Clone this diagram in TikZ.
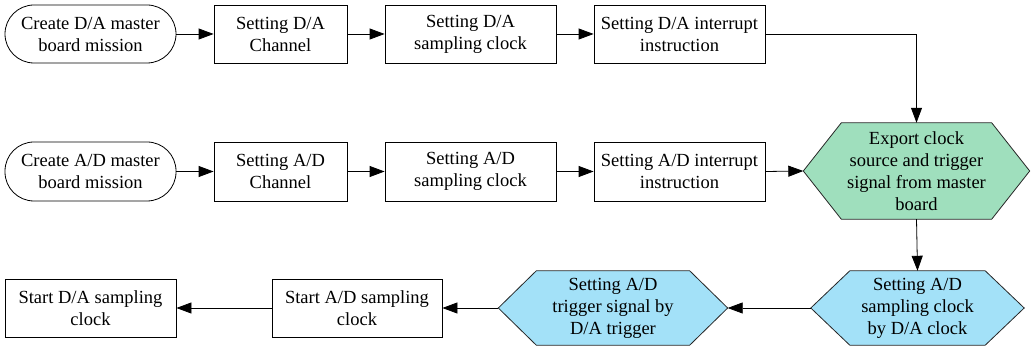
\documentclass[tikz,border=0pt]{standalone}
\usepackage{fontspec}
\setmainfont{Liberation Serif}
\usetikzlibrary{arrows.meta, backgrounds, calc}
\usepackage{xcolor}
\definecolor{hexgreen}{HTML}{9FDFBD}
\definecolor{hexblue}{HTML}{A3E1F8}

\tikzset{
  block/.style={draw, line width=0.8pt, minimum height=58pt, align=center,
    inner sep=0pt, font=\fontsize{18.5}{22}\selectfont},
  startstop/.style={block, rounded corners=29pt},
  hexbox/.style={align=center, inner sep=0pt, font=\fontsize{18.5}{22}\selectfont},
  flow/.style={line width=0.8pt, -{Triangle[length=15pt, width=11pt]}}
}

% hexagon behind a node: node, tip length, colour
\newcommand{\hexfill}[3]{%
  \filldraw[fill=#3, draw=black!85, line width=0.8pt]
    (#1.north west) -- (#1.north east) -- ($(#1.east)+(#2,0)$)
    -- (#1.south east) -- (#1.south west) -- ($(#1.west)+(-#2,0)$) -- cycle;
}

\begin{document}
\begin{tikzpicture}[x=1pt, y=-1pt]
  \useasboundingbox (0,0) rectangle (1031,347);

  % D/A row
  \node[startstop, minimum width=171pt] (mdA) at (90.5,34) {Create D/A master\\board mission};
  \node[block, minimum width=133pt] (chA) at (280.5,34) {Setting D/A\\Channel};
  \node[block, minimum width=171pt] (clkA) at (470.5,34) {Setting D/A\\sampling clock};
  \node[block, minimum width=171pt] (intA) at (679.5,34) {Setting D/A interrupt\\instruction};

  % A/D row
  \node[startstop, minimum width=171pt, minimum height=59pt] (mdD) at (90.5,171.5) {Create A/D master\\board mission};
  \node[block, minimum width=133pt, minimum height=59pt] (chD) at (280.5,171.5) {Setting A/D\\Channel};
  \node[block, minimum width=171pt, minimum height=59pt] (clkD) at (470.5,171.5) {Setting A/D\\sampling clock};
  \node[block, minimum width=171pt, minimum height=59pt] (intD) at (679.5,171.5) {Setting A/D interrupt\\instruction};

  % Hexagons
  \node[hexbox, minimum width=150pt, minimum height=96pt] (hexG) at (916.5,171) {Export clock\\source and trigger\\signal from master\\board};
  \node[hexbox, minimum width=135pt, minimum height=74pt] (hexR) at (917.5,308) {Setting A/D\\sampling clock\\by D/A clock};
  \node[hexbox, minimum width=153pt, minimum height=74pt] (hexL) at (613,308) {Setting A/D\\trigger signal by\\D/A trigger};
  \coordinate (hexG-w) at ($(hexG.west)+(-38,0)$);
  \coordinate (hexR-w) at ($(hexR.west)+(-39,0)$);
  \coordinate (hexL-e) at ($(hexL.east)+(38,0)$);
  \coordinate (hexL-w) at ($(hexL.west)+(-38,0)$);
  \begin{scope}[on background layer]
    \hexfill{hexG}{38}{hexgreen}
    \hexfill{hexR}{39}{hexblue}
    \hexfill{hexL}{38}{hexblue}
  \end{scope}

  % Start row
  \node[block, minimum width=171pt] (startDA) at (90.5,308) {Start D/A sampling\\clock};
  \node[block, minimum width=170pt] (startAD) at (357,308) {Start A/D sampling\\clock};

  % Connectors
  \draw[flow] (mdA) -- (chA);
  \draw[flow] (chA) -- (clkA);
  \draw[flow] (clkA) -- (intA);
  \draw[flow] (intA.east) -| (hexG.north);
  \draw[flow] (mdD) -- (chD);
  \draw[flow] (chD) -- (clkD);
  \draw[flow] (clkD) -- (intD);
  \draw[flow] (intD.east) -- (hexG-w);
  \draw[flow] (hexG.south) -- (hexR.north);
  \draw[flow] (hexR-w) -- (hexL-e);
  \draw[flow] (hexL-w) -- (startAD.east);
  \draw[flow] (startAD) -- (startDA);
\end{tikzpicture}
\end{document}
